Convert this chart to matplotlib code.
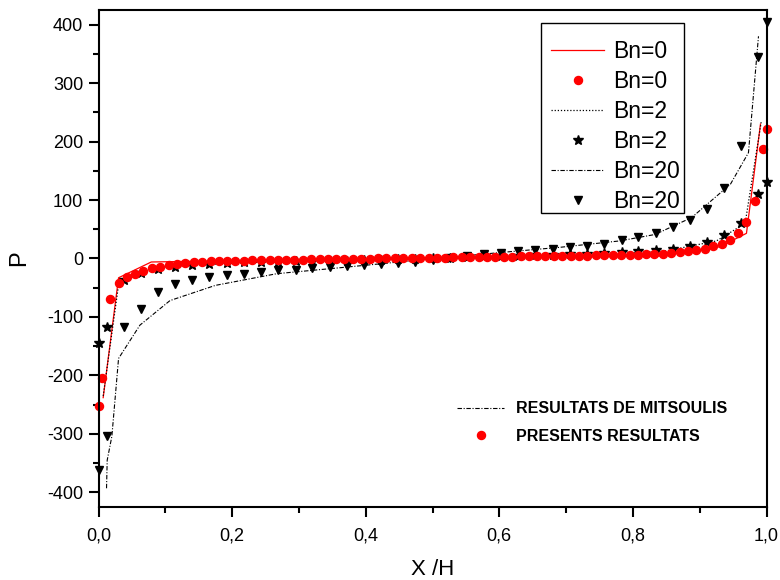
import matplotlib
matplotlib.use("Agg")
import matplotlib.pyplot as plt
from matplotlib.lines import Line2D
from matplotlib.patches import Rectangle
from matplotlib.ticker import MultipleLocator, FuncFormatter

plt.rcParams['font.family'] = ['Liberation Sans', 'DejaVu Sans']
plt.rcParams['axes.unicode_minus'] = False

# present results, Bn=0 (red circles)
red_x = [0.0, 0.005, 0.017, 0.030, 0.042, 0.055, 0.067, 0.080, 0.092, 0.105,
         0.118, 0.130, 0.143, 0.155, 0.168, 0.180, 0.193, 0.205, 0.218, 0.230,
         0.243, 0.256, 0.268, 0.281, 0.293, 0.306, 0.318, 0.331, 0.343, 0.356,
         0.368, 0.381, 0.393, 0.406, 0.419, 0.431, 0.444, 0.456, 0.469, 0.481,
         0.494, 0.506, 0.519, 0.531, 0.544, 0.556, 0.569, 0.581, 0.594, 0.607,
         0.619, 0.632, 0.644, 0.657, 0.669, 0.682, 0.694, 0.707, 0.719, 0.732,
         0.745, 0.757, 0.770, 0.782, 0.795, 0.807, 0.820, 0.832, 0.845, 0.857,
         0.870, 0.882, 0.895, 0.908, 0.920, 0.933, 0.945, 0.958, 0.970, 0.983,
         0.995, 1.0]
red_y = [-253, -204, -70, -42, -32, -26, -21, -17, -14, -11,
         -9, -7.5, -6.5, -5.5, -5, -4.5, -4, -3.8, -3.5, -3.2,
         -3, -2.8, -2.5, -2.3, -2, -1.8, -1.6, -1.4, -1.2, -1,
         -0.8, -0.6, -0.4, -0.2, 0, 0.2, 0.4, 0.6, 0.8, 1,
         1.2, 1.4, 1.6, 1.8, 2, 2.2, 2.4, 2.6, 2.8, 3,
         3.2, 3.4, 3.6, 3.8, 4, 4.2, 4.4, 4.6, 4.8, 5,
         5.2, 5.5, 5.7, 6, 6.3, 6.7, 7.2, 7.8, 8.5, 9.5,
         11, 12.5, 14.5, 17, 20.5, 25, 32, 44, 62, 98,
         187, 222]

# present results, Bn=2 (stars) and Bn=20 (triangles)
bn_x = [0.0, 0.012, 0.038, 0.063, 0.089, 0.115, 0.140, 0.166, 0.192, 0.218,
        0.243, 0.269, 0.295, 0.320, 0.346, 0.372, 0.397, 0.423, 0.449, 0.474,
        0.500, 0.526, 0.551, 0.577, 0.603, 0.628, 0.654, 0.680, 0.706, 0.731,
        0.757, 0.783, 0.808, 0.834, 0.860, 0.885, 0.911, 0.937, 0.962, 0.988, 1.0]
star_y = [-145, -117, -37, -24.5, -17.7, -14, -11, -8.6, -7.5, -6.5,
          -6, -5.5, -5, -4.5, -4, -3.5, -3, -2.5, -1.5, -0.5,
          0.5, 1.5, 2.5, 3.5, 4.5, 5, 6, 6.5, 7.5, 8.5,
          9, 11, 12.5, 14.5, 17, 22, 28.5, 40.5, 60, 111, 131]
tri_y = [-362, -303, -118, -86, -57, -43, -36, -32, -29, -26.5,
         -23.5, -20.5, -19, -16.5, -15, -13.5, -11.5, -9, -7.5, -5.5,
         -2, 1, 4, 7, 9.5, 12.5, 15, 17, 19, 22,
         25, 31, 36, 44, 53, 66, 85, 120, 192, 344, 405]

# Mitsoulis results (lines)
mit0_x = [0.007, 0.030, 0.079, 0.30, 0.60, 0.84, 0.93, 0.970, 0.991]
mit0_y = [-238, -33, -6, -2, 1, 4, 20, 43, 230]
mit2_x = [0.007, 0.030, 0.070, 0.107, 0.25, 0.50, 0.75, 0.85, 0.925, 0.968, 0.992]
mit2_y = [-235, -45, -22, -13, -6, 0, 6, 13, 30, 60, 233]
mit20_x = [0.012, 0.013, 0.020, 0.030, 0.062, 0.107, 0.175, 0.267, 0.36, 0.45,
           0.60, 0.69, 0.78, 0.833, 0.888, 0.946, 0.973, 0.988]
mit20_y = [-393, -345, -304, -171, -114, -72, -46, -26, -16, -6,
           10, 19, 30, 41, 70, 127, 181, 380]

DOT = (0, (1, 1.5))
DASHDOT = (0, (4, 1.5, 1, 1.5))

fig = plt.figure(figsize=(7.8, 5.8), dpi=100)
ax = fig.add_axes([0.1263, 0.1259, 0.8564, 0.8569])

l0, = ax.plot(mit0_x, mit0_y, color='red', lw=0.9)
l2, = ax.plot(mit2_x, mit2_y, color='black', lw=0.9, linestyle=DOT)
l20, = ax.plot(mit20_x, mit20_y, color='black', lw=0.8, linestyle=DASHDOT)
st, = ax.plot(bn_x, star_y, linestyle='none', marker='*', ms=7, color='black',
              clip_on=False)
tr, = ax.plot(bn_x, tri_y, linestyle='none', marker='v', ms=6, color='black',
              clip_on=False)
rc, = ax.plot(red_x, red_y, linestyle='none', marker='o', ms=5.8, color='red',
              clip_on=False)

ax.set_xlim(0, 1)
ax.set_ylim(-425, 425)
ax.xaxis.set_major_locator(MultipleLocator(0.2))
ax.xaxis.set_minor_locator(MultipleLocator(0.1))
ax.yaxis.set_major_locator(MultipleLocator(100))
ax.yaxis.set_minor_locator(MultipleLocator(50))
ax.xaxis.set_major_formatter(FuncFormatter(lambda v, p: f"{v:.1f}".replace('.', ',')))
ax.yaxis.set_major_formatter(FuncFormatter(lambda v, p: f"{v:.0f}"))

for s in ax.spines.values():
    s.set_linewidth(1.5)
ax.tick_params(which='both', direction='out', width=1.5, top=False, right=False,
               labelsize=13)
ax.tick_params(axis='x', pad=8)
ax.tick_params(axis='y', pad=4)
ax.tick_params(which='major', length=7)
ax.tick_params(which='minor', length=4)

ax.set_xlabel('X /H', fontsize=16, labelpad=10)
ax.set_ylabel('P', fontsize=17, labelpad=12)

# legend frame drawn separately (text sits low in the box, as in Origin)
ax.add_patch(Rectangle((0.662, 0.592), 0.2145, 0.381, transform=ax.transAxes,
                       facecolor='white', edgecolor='black', lw=1.0, zorder=4))
leg1 = ax.legend([l0, rc, l2, st, l20, tr],
                 ['Bn=0', 'Bn=0', 'Bn=2', 'Bn=2', 'Bn=20', 'Bn=20'],
                 loc='upper left', bbox_to_anchor=(0.678, 0.939),
                 borderaxespad=0, borderpad=0, frameon=False, fontsize=16.5,
                 handlelength=2.3, handletextpad=0.4, labelspacing=0.3)
ax.add_artist(leg1)

leg2 = ax.legend([Line2D([], [], color='black', lw=0.8, linestyle=DASHDOT),
                  Line2D([], [], linestyle='none', marker='o', ms=5.8, color='red')],
                 ['RESULTATS DE MITSOULIS', 'PRESENTS RESULTATS'],
                 loc='upper left', bbox_to_anchor=(0.536, 0.213),
                 borderaxespad=0, borderpad=0, frameon=False,
                 handlelength=3.0, handletextpad=0.7, labelspacing=0.8,
                 prop={'weight': 'bold', 'size': 11.5})

fig.savefig('out.png', dpi=100)
